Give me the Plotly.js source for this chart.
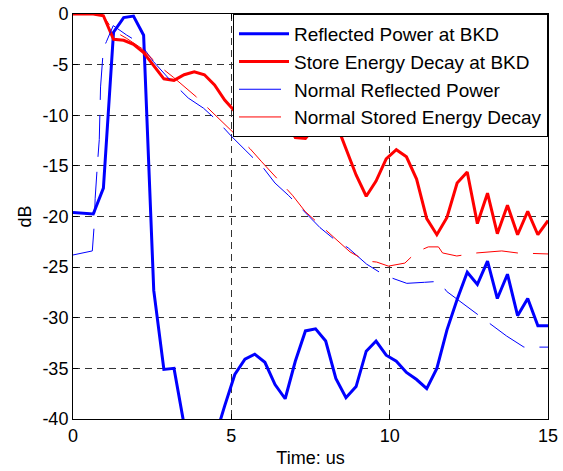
<!DOCTYPE html>
<html>
<head>
<meta charset="utf-8">
<script src="https://cdn.plot.ly/plotly-3.0.1.min.js"></script>
<style>
  html, body { margin: 0; padding: 0; background: #fff; }
  #chart { width: 563px; height: 471px; }
</style>
</head>
<body>
<div id="chart"></div>
<script>
// ---- Data ----
var timeBKD = [0, 0.32, 0.64, 0.96, 1.28, 1.6, 1.91, 2.23, 2.55, 2.87, 3.19, 3.51, 3.83, 4.15, 4.47, 4.79,
  5.11, 5.43, 5.74, 6.06, 6.38, 6.7, 7.02, 7.34, 7.66, 7.98, 8.3, 8.62, 8.94, 9.26, 9.57, 9.89,
  10.21, 10.53, 10.85, 11.17, 11.49, 11.81, 12.13, 12.45, 12.77, 13.09, 13.4, 13.72, 14.04, 14.36, 14.68, 15.0];

var reflectedBKD = [-19.6, -19.7, -19.75, -17.2, -1.8, -0.35, -0.2, -2.1, -27.3, -35.1, -35.0, -40.6, -45, -46, -42.0, -38.7,
  -35.6, -34.1, -33.6, -34.4, -36.6, -38.0, -34.3, -31.3, -31.1, -32.3, -36.0, -37.9, -36.8, -33.3, -32.3, -33.7,
  -34.3, -35.4, -36.1, -37.0, -35.0, -31.2, -28.2, -25.5, -26.7, -24.4, -28.1, -25.7, -29.8, -28.1, -30.8, -30.8];

var storedBKD = [0, 0, 0, -0.17, -2.5, -2.6, -3.0, -3.8, -5.1, -6.4, -6.55, -6.0, -5.7, -6.0, -7.0, -8.5,
  -9.6, -9.7, -9.3, -9.0, -9.4, -10.3, -12.2, -12.3, -11.1, -10.5, -10.7, -13.3, -15.9, -18.0, -16.5, -14.3,
  -13.4, -14.1, -16.3, -20.2, -21.8, -20.1, -16.7, -15.6, -20.7, -17.7, -21.7, -18.9, -21.8, -19.5, -21.8, -20.4];

var timeNormRefl = [0, 0.61, 0.67, 0.7, 0.77, 0.83, 0.87, 0.96, 1.06, 1.27, 1.69, 2.12, 2.54, 3.06, 3.64, 4.12,
  4.54, 5.01, 5.46, 6.01, 6.38, 6.8, 7.27, 7.8, 8.27, 8.69, 9.27, 9.73, 10.0, 10.54, 11.1, 11.57, 11.8,
  12.66, 13.04, 13.69, 14.24, 14.72, 15.0];
var normalReflected = [-23.8, -23.4, -20.8, -18.2, -14.9, -12.4, -7.2, -3.4, -2.7, -1.15, -2.07, -2.9, -4.7, -6.5, -8.3, -9.3,
  -10.5, -12.1, -13.5, -15.2, -16.7, -17.9, -19.4, -21.1, -22.3, -23.1, -24.7, -25.6, -26.0, -26.6, -26.5, -26.4, -27.4,
  -29.4, -30.2, -31.8, -32.9, -32.9, -32.9];

var timeNormStored = [0, 0.9, 1.06, 1.27, 1.69, 2.17, 2.75, 3.17, 3.9, 4.59, 5.59, 5.96, 6.93, 7.33, 7.8, 8.33,
  8.75, 9.27, 9.59, 9.96, 10.48, 10.85, 11.22, 11.54, 11.67, 12.12, 12.75, 13.54, 14.03, 15.0];
var normalStored = [0, 0, -0.66, -1.65, -2.4, -3.4, -5.2, -6.25, -8.2, -10.3, -13.3, -14.6, -17.9, -19.5, -20.8, -22.3,
  -23.5, -24.4, -24.5, -24.9, -24.6, -23.5, -23.0, -23.0, -23.6, -23.9, -23.6, -23.4, -23.6, -23.7];

var seriesNames = ['Reflected Power at BKD', 'Store Energy Decay at BKD', 'Normal Reflected Power', 'Normal Stored Energy Decay'];
var xTicks = [0, 5, 10, 15];
var yTicks = [-40, -35, -30, -25, -20, -15, -10, -5, 0];

var FONT = 'Arial, "Liberation Sans", sans-serif';

var traces = [
  {x: timeBKD, y: reflectedBKD, name: seriesNames[0], mode: 'lines',
   line: {color: '#0000ff', width: 3}},
  {x: timeBKD, y: storedBKD, name: seriesNames[1], mode: 'lines',
   line: {color: '#ff0000', width: 3}},
  {x: timeNormRefl, y: normalReflected, name: seriesNames[2], mode: 'lines',
   line: {color: '#0000ff', width: 1, dash: '42px,15px'}},
  {x: timeNormStored, y: normalStored, name: seriesNames[3], mode: 'lines',
   line: {color: '#ff0000', width: 1, dash: '42px,15px'}}
];

var axisCommon = {
  showline: true, linecolor: '#000', linewidth: 1, mirror: 'ticks',
  ticks: 'inside', ticklen: 5, tickcolor: '#000', tickwidth: 1,
  showgrid: true, gridcolor: '#333', gridwidth: 1, griddash: '7px,5px',
  zeroline: false, tickfont: {family: FONT, size: 18, color: '#000'}
};

var layout = {
  width: 563, height: 471,
  margin: {l: 73, r: 15, t: 14, b: 52},
  paper_bgcolor: '#fff', plot_bgcolor: '#fff',
  showlegend: true,
  legend: {
    x: 1, xanchor: 'right', y: 1, yanchor: 'top',
    bgcolor: '#fff', bordercolor: '#000', borderwidth: 1,
    font: {family: FONT, size: 19, color: '#000'},
    itemwidth: 50, tracegroupgap: 0
  },
  xaxis: Object.assign({}, axisCommon, {
    range: [0, 15], tickvals: xTicks, ticktext: xTicks.map(String),
    title: {text: 'Time: us', font: {family: FONT, size: 18, color: '#000'}, standoff: 6}
  }),
  yaxis: Object.assign({}, axisCommon, {
    range: [-40, 0], tickvals: yTicks, ticktext: yTicks.map(String),
    title: {text: 'dB', font: {family: FONT, size: 18, color: '#000'}, standoff: 6}
  })
};

Plotly.newPlot('chart', traces, layout, {displayModeBar: false, staticPlot: true});
</script>
</body>
</html>
